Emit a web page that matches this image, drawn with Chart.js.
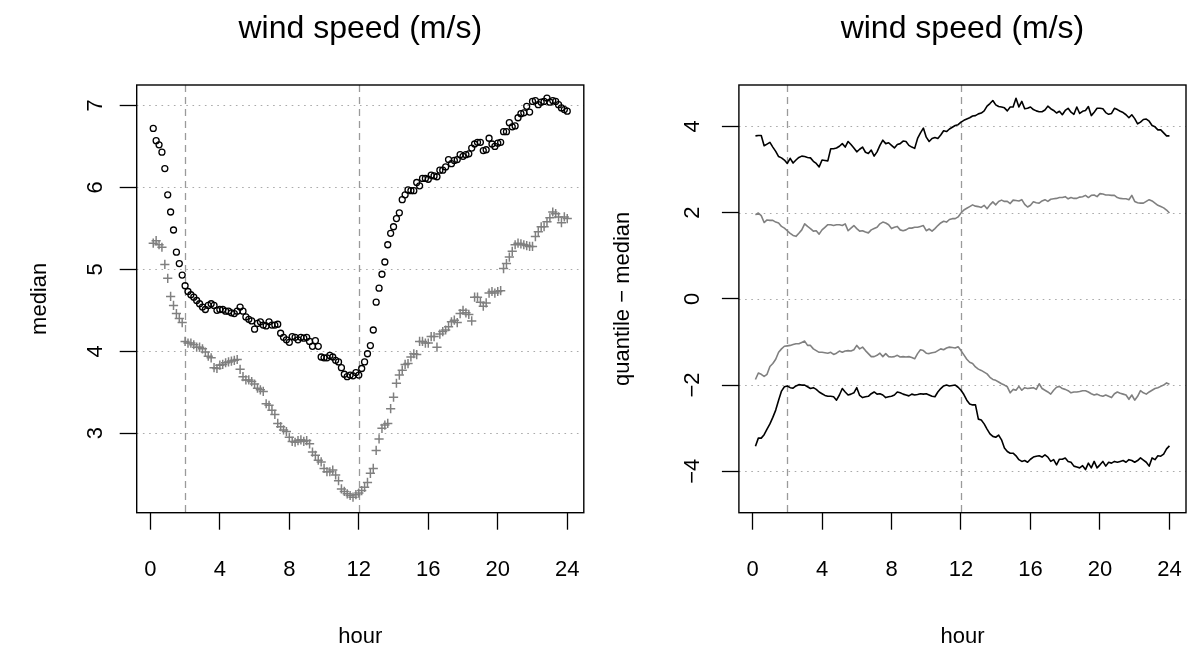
<!DOCTYPE html>
<html>
<head>
<meta charset="utf-8">
<title>wind speed (m/s)</title>
<script src="https://cdn.jsdelivr.net/npm/chart.js@4.4.1/dist/chart.umd.min.js"></script>
<style>
  html, body { margin: 0; padding: 0; background: #fff; }
  #wrap { position: relative; width: 1188px; height: 647px; overflow: hidden; }
  #wrap canvas { position: absolute; top: 0; }
</style>
</head>
<body>
<div id="wrap">
  <canvas id="medianChart" width="594" height="647" style="left:0"></canvas>
  <canvas id="spreadChart" width="594" height="647" style="left:594px"></canvas>
</div>
<script>
// time of day in minutes (10 minute steps)
const minutes = [
  10, 20, 30, 40, 50, 60, 70, 80, 90, 100, 110, 120,
  130, 140, 150, 160, 170, 180, 190, 200, 210, 220, 230, 240,
  250, 260, 270, 280, 290, 300, 310, 320, 330, 340, 350, 360,
  370, 380, 390, 400, 410, 420, 430, 440, 450, 460, 470, 480,
  490, 500, 510, 520, 530, 540, 550, 560, 570, 580, 590, 600,
  610, 620, 630, 640, 650, 660, 670, 680, 690, 700, 710, 720,
  730, 740, 750, 760, 770, 780, 790, 800, 810, 820, 830, 840,
  850, 860, 870, 880, 890, 900, 910, 920, 930, 940, 950, 960,
  970, 980, 990, 1000, 1010, 1020, 1030, 1040, 1050, 1060, 1070, 1080,
  1090, 1100, 1110, 1120, 1130, 1140, 1150, 1160, 1170, 1180, 1190, 1200,
  1210, 1220, 1230, 1240, 1250, 1260, 1270, 1280, 1290, 1300, 1310, 1320,
  1330, 1340, 1350, 1360, 1370, 1380, 1390, 1400, 1410, 1420, 1430, 1440
];

// left panel: median wind speed, two sites
const medianBlack = [
  6.72, 6.57, 6.52, 6.43, 6.23, 5.91, 5.70, 5.48, 5.21, 5.07, 4.93, 4.80,
  4.73, 4.69, 4.66, 4.62, 4.58, 4.54, 4.51, 4.56, 4.58, 4.56, 4.50, 4.51,
  4.51, 4.49, 4.49, 4.47, 4.46, 4.49, 4.54, 4.49, 4.42, 4.39, 4.37, 4.27,
  4.34, 4.36, 4.32, 4.31, 4.36, 4.32, 4.32, 4.33, 4.22, 4.17, 4.14, 4.11,
  4.18, 4.17, 4.14, 4.17, 4.16, 4.17, 4.12, 4.06, 4.13, 4.06, 3.93, 3.92,
  3.92, 3.95, 3.93, 3.89, 3.87, 3.80, 3.72, 3.69, 3.71, 3.70, 3.74, 3.71,
  3.79, 3.87, 3.97, 4.07, 4.26, 4.60, 4.77, 4.94, 5.09, 5.30, 5.44, 5.52,
  5.62, 5.69, 5.85, 5.91, 5.97, 5.96, 5.96, 6.06, 6.02, 6.11, 6.11, 6.10,
  6.15, 6.14, 6.13, 6.21, 6.21, 6.25, 6.34, 6.29, 6.33, 6.34, 6.40, 6.38,
  6.40, 6.41, 6.48, 6.53, 6.55, 6.55, 6.45, 6.46, 6.60, 6.53, 6.50, 6.54,
  6.55, 6.68, 6.68, 6.79, 6.74, 6.75, 6.85, 6.90, 6.91, 6.99, 6.92, 7.05,
  7.06, 7.01, 7.04, 7.05, 7.09, 7.04, 7.06, 7.05, 7.01, 6.97, 6.95, 6.93
];
const medianGrey = [
  5.32, 5.35, 5.30, 5.27, 5.06, 4.89, 4.67, 4.56, 4.46, 4.40, 4.35, 4.12,
  4.10, 4.10, 4.08, 4.05, 4.05, 4.03, 3.99, 3.94, 3.92, 3.80, 3.79, 3.83,
  3.84, 3.86, 3.87, 3.88, 3.89, 3.90, 3.78, 3.69, 3.65, 3.65, 3.63, 3.60,
  3.55, 3.53, 3.51, 3.36, 3.34, 3.28, 3.23, 3.12, 3.08, 3.04, 3.02, 2.95,
  2.90, 2.89, 2.91, 2.92, 2.90, 2.91, 2.87, 2.77, 2.73, 2.67, 2.65, 2.57,
  2.53, 2.53, 2.55, 2.49, 2.42, 2.32, 2.29, 2.26, 2.24, 2.22, 2.25, 2.27,
  2.30, 2.34, 2.40, 2.51, 2.57, 2.79, 2.93, 3.06, 3.10, 3.12, 3.30, 3.44,
  3.61, 3.71, 3.77, 3.84, 3.85, 3.93, 3.97, 3.96, 4.12, 4.12, 4.10, 4.10,
  4.18, 4.18, 4.05, 4.21, 4.24, 4.26, 4.30, 4.36, 4.38, 4.35, 4.46, 4.50,
  4.47, 4.45, 4.37, 4.66, 4.66, 4.60, 4.55, 4.59, 4.71, 4.73, 4.71, 4.73,
  4.74, 5.01, 5.07, 5.15, 5.22, 5.30, 5.32, 5.31, 5.30, 5.29, 5.28, 5.28,
  5.40, 5.46, 5.52, 5.52, 5.58, 5.63, 5.70, 5.68, 5.64, 5.57, 5.64, 5.62
];

// right panel: quantile - median
const upperBlack = [
  3.78, 3.79, 3.79, 3.55, 3.59, 3.63, 3.52, 3.42, 3.30, 3.27, 3.22, 3.14,
  3.26, 3.15, 3.22, 3.28, 3.31, 3.30, 3.28, 3.27, 3.19, 3.14, 3.06, 3.22,
  3.21, 3.20, 3.48, 3.48, 3.50, 3.54, 3.60, 3.52, 3.65, 3.58, 3.50, 3.41,
  3.47, 3.52, 3.40, 3.37, 3.45, 3.31, 3.41, 3.56, 3.68, 3.60, 3.62, 3.56,
  3.50, 3.58, 3.60, 3.66, 3.65, 3.56, 3.52, 3.49, 3.72, 3.85, 3.96, 3.75,
  3.65, 3.72, 3.74, 3.72, 3.80, 3.90, 3.88, 3.94, 3.98, 4.02, 4.04, 4.10,
  4.14, 4.17, 4.20, 4.24, 4.25, 4.29, 4.31, 4.36, 4.47, 4.53, 4.60, 4.50,
  4.46, 4.45, 4.43, 4.36, 4.45, 4.45, 4.65, 4.45, 4.58, 4.41, 4.42, 4.45,
  4.39, 4.36, 4.34, 4.34, 4.38, 4.47, 4.41, 4.37, 4.31, 4.35, 4.27, 4.37,
  4.42, 4.33, 4.28, 4.45, 4.30, 4.35, 4.37, 4.46, 4.25, 4.33, 4.42, 4.42,
  4.41, 4.32, 4.28, 4.30, 4.42, 4.39, 4.35, 4.32, 4.27, 4.20, 4.27, 4.18,
  4.06, 4.10, 4.16, 4.17, 4.12, 4.02, 3.99, 3.92, 3.92, 3.85, 3.78, 3.78
];
const upperGrey = [
  1.95, 1.99, 1.93, 1.77, 1.83, 1.82, 1.82, 1.78, 1.76, 1.68, 1.64, 1.58,
  1.52, 1.47, 1.45, 1.52, 1.60, 1.74, 1.68, 1.63, 1.57, 1.58, 1.50, 1.60,
  1.66, 1.72, 1.72, 1.70, 1.72, 1.72, 1.70, 1.74, 1.58, 1.64, 1.70, 1.63,
  1.57, 1.58, 1.55, 1.53, 1.60, 1.63, 1.66, 1.74, 1.78, 1.76, 1.72, 1.63,
  1.66, 1.68, 1.60, 1.58, 1.60, 1.64, 1.64, 1.66, 1.66, 1.68, 1.70, 1.58,
  1.62, 1.57, 1.63, 1.70, 1.76, 1.80, 1.78, 1.84, 1.86, 1.86, 1.90, 1.99,
  2.06, 2.10, 2.14, 2.18, 2.15, 2.14, 2.12, 2.17, 2.09, 2.18, 2.25, 2.18,
  2.26, 2.29, 2.26, 2.26, 2.21, 2.29, 2.28, 2.27, 2.30, 2.19, 2.13, 2.17,
  2.25, 2.23, 2.22, 2.27, 2.30, 2.26, 2.31, 2.32, 2.33, 2.35, 2.35, 2.37,
  2.32, 2.35, 2.33, 2.33, 2.36, 2.37, 2.40, 2.35, 2.40, 2.41, 2.37, 2.44,
  2.43, 2.41, 2.41, 2.40, 2.40, 2.35, 2.33, 2.32, 2.32, 2.30, 2.40, 2.26,
  2.23, 2.22, 2.22, 2.26, 2.30, 2.27, 2.22, 2.17, 2.14, 2.11, 2.06, 1.99
];
const lowerGrey = [
  -1.87, -1.72, -1.75, -1.80, -1.75, -1.57, -1.50, -1.40, -1.24, -1.16, -1.10, -1.09,
  -1.08, -1.06, -1.04, -1.04, -1.01, -0.98, -1.08, -1.08, -1.16, -1.20, -1.24, -1.24,
  -1.25, -1.26, -1.24, -1.29, -1.26, -1.21, -1.24, -1.21, -1.20, -1.21, -1.18, -1.08,
  -1.16, -1.12, -1.20, -1.27, -1.34, -1.34, -1.31, -1.26, -1.34, -1.27, -1.34, -1.35,
  -1.34, -1.31, -1.35, -1.34, -1.35, -1.34, -1.36, -1.39, -1.27, -1.18, -1.20, -1.26,
  -1.27, -1.25, -1.24, -1.20, -1.16, -1.18, -1.14, -1.12, -1.13, -1.14, -1.11, -1.20,
  -1.30, -1.40, -1.47, -1.50, -1.58, -1.63, -1.66, -1.70, -1.74, -1.82, -1.87, -1.89,
  -1.93, -1.97, -2.00, -2.04, -2.18, -2.10, -2.12, -2.03, -2.12, -2.06, -2.08, -2.07,
  -2.06, -2.10, -1.97, -2.08, -2.12, -2.16, -2.21, -2.12, -2.05, -2.03, -2.08, -2.10,
  -2.13, -2.18, -2.16, -2.16, -2.15, -2.13, -2.13, -2.16, -2.20, -2.23, -2.21, -2.24,
  -2.26, -2.23, -2.26, -2.29, -2.20, -2.16, -2.19, -2.21, -2.23, -2.33, -2.23, -2.35,
  -2.26, -2.13, -2.18, -2.21, -2.16, -2.12, -2.08, -2.06, -2.03, -2.00, -1.95, -1.98
];
const lowerBlack = [
  -3.42, -3.23, -3.23, -3.15, -3.02, -2.90, -2.75, -2.58, -2.35, -2.14, -2.04, -2.02,
  -2.06, -2.07, -2.02, -1.99, -2.00, -2.00, -2.04, -2.08, -2.06, -2.10, -2.16, -2.20,
  -2.24, -2.26, -2.26, -2.27, -2.35, -2.23, -2.08, -2.16, -2.23, -2.21, -2.18, -2.06,
  -2.24, -2.29, -2.27, -2.26, -2.20, -2.16, -2.21, -2.20, -2.23, -2.29, -2.27, -2.26,
  -2.23, -2.16, -2.18, -2.21, -2.23, -2.25, -2.21, -2.23, -2.22, -2.20, -2.21, -2.20,
  -2.23, -2.26, -2.27, -2.16, -2.08, -2.02, -2.00, -2.02, -2.01, -2.00, -2.05, -2.12,
  -2.22, -2.35, -2.44, -2.46, -2.46, -2.79, -2.81, -2.90, -3.02, -3.13, -3.19, -3.21,
  -3.16, -3.27, -3.46, -3.54, -3.58, -3.58, -3.64, -3.73, -3.77, -3.75, -3.79, -3.72,
  -3.67, -3.65, -3.64, -3.67, -3.62, -3.67, -3.77, -3.73, -3.85, -3.72, -3.72, -3.69,
  -3.77, -3.79, -3.88, -3.90, -3.92, -3.87, -3.96, -3.81, -3.92, -3.77, -3.92, -3.85,
  -3.77, -3.88, -3.79, -3.81, -3.77, -3.79, -3.77, -3.75, -3.79, -3.73, -3.75, -3.79,
  -3.75, -3.69, -3.74, -3.79, -3.88, -3.69, -3.73, -3.64, -3.65, -3.60, -3.48, -3.41
];

// axes
const hourTicks = [0, 4, 8, 12, 16, 20, 24];
const markHours = [2, 12];
const medianTicks = [3, 4, 5, 6, 7];
const spreadTicks = [-4, -2, 0, 2, 4];

const FONT = '"Liberation Sans", Arial, Helvetica, sans-serif';
const GREY = '#808080';

const hours = minutes.map(m => m / 60);
const toPoints = vals => vals.map((v, i) => ({ x: hours[i], y: v }));
const fmt = v => (v < 0 ? '\u2212' + Math.abs(v) : String(v));

// grid lines, frame and all text of an R style panel
const panelDeco = {
    id: 'panelDeco',
    beforeDatasetsDraw(chart, args, o) {
        const { ctx, chartArea: a, scales: { x, y } } = chart;
        ctx.save();
        ctx.lineWidth = 1.1;
        ctx.strokeStyle = '#aaaaaa';
        ctx.setLineDash([1.6, 4.6]);
        o.yTicks.forEach(v => {
            const py = Math.round(y.getPixelForValue(v)) + 0.5;
            ctx.beginPath(); ctx.moveTo(a.left, py); ctx.lineTo(a.right, py); ctx.stroke();
        });
        ctx.strokeStyle = '#9a9a9a';
        ctx.lineWidth = 1.3;
        ctx.setLineDash([7, 5]);
        markHours.forEach(v => {
            const px = Math.round(x.getPixelForValue(v)) + 0.5;
            ctx.beginPath(); ctx.moveTo(px, a.top); ctx.lineTo(px, a.bottom); ctx.stroke();
        });
        ctx.restore();
    },
    afterDraw(chart, args, o) {
        const { ctx, chartArea: a, scales: { x, y } } = chart;
        ctx.save();
        ctx.strokeStyle = '#000';
        ctx.lineWidth = 1.4;
        ctx.strokeRect(a.left, a.top, a.right - a.left, a.bottom - a.top);

        ctx.fillStyle = '#000';
        ctx.font = '22px ' + FONT;
        ctx.textAlign = 'center';
        ctx.textBaseline = 'alphabetic';
        hourTicks.forEach(v => ctx.fillText(String(v), x.getPixelForValue(v), 576));
        ctx.fillText('hour', (a.left + a.right) / 2, 643);

        o.yTicks.forEach(v => {
            ctx.save();
            ctx.translate(a.left - o.tickGap, y.getPixelForValue(v));
            ctx.rotate(-Math.PI / 2);
            ctx.fillText(fmt(v), 0, 0);
            ctx.restore();
        });
        ctx.save();
        ctx.translate(a.left - o.labGap, (a.top + a.bottom) / 2);
        ctx.rotate(-Math.PI / 2);
        ctx.fillText(o.ylab, 0, 0);
        ctx.restore();

        ctx.font = '32px ' + FONT;
        ctx.fillText(o.title, (a.left + a.right) / 2, 38);
        ctx.restore();
    }
};

function axisOptions(min, max, ticks, size) {
    return {
        type: 'linear',
        min: min,
        max: max,
        afterBuildTicks: s => { s.ticks = ticks.map(v => ({ value: v })); },
        afterFit: s => {
            if (s.isHorizontal()) s.height = size; else s.width = size;
        },
        ticks: { display: false },
        border: { display: false },
        grid: {
            drawOnChartArea: false,
            drawTicks: true,
            tickLength: 17,
            tickColor: '#000',
            tickWidth: 1.3
        }
    };
}

function baseOptions(padRight, yMin, yMax, yTicks, leftWidth, deco) {
    return {
        responsive: false,
        animation: false,
        devicePixelRatio: 1,
        layout: { padding: { left: 0, top: 85, right: padRight, bottom: 0 } },
        plugins: { legend: { display: false }, tooltip: { enabled: false }, panelDeco: deco },
        scales: {
            x: axisOptions(-0.786, 24.953, hourTicks, 647 - 512.7),
            y: axisOptions(yMin, yMax, yTicks, leftWidth)
        }
    };
}

new Chart(document.getElementById('medianChart'), {
    type: 'scatter',
    data: {
        datasets: [
            {
                data: toPoints(medianBlack),
                pointStyle: 'circle',
                pointRadius: 3.0,
                borderColor: '#000',
                backgroundColor: 'rgba(0,0,0,0)',
                borderWidth: 1.3
            },
            {
                data: toPoints(medianGrey),
                pointStyle: 'cross',
                pointRadius: 4.6,
                borderColor: GREY,
                borderWidth: 1.5
            }
        ]
    },
    options: baseOptions(594 - 583.8, 2.03, 7.25, medianTicks, 136.7,
        { title: 'wind speed (m/s)', ylab: 'median', yTicks: medianTicks, tickGap: 35, labGap: 91 }),
    plugins: [panelDeco]
});

const lineSet = (vals, color) => ({
    data: toPoints(vals),
    showLine: true,
    pointRadius: 0,
    borderColor: color,
    borderWidth: 1.6,
    borderJoinStyle: 'round',
    tension: 0
});

new Chart(document.getElementById('spreadChart'), {
    type: 'scatter',
    data: {
        datasets: [
            lineSet(upperBlack, '#000'),
            lineSet(upperGrey, GREY),
            lineSet(lowerGrey, GREY),
            lineSet(lowerBlack, '#000')
        ]
    },
    options: baseOptions(594 - 592, -4.96, 4.96, spreadTicks, 144.9,
        { title: 'wind speed (m/s)', ylab: 'quantile \u2212 median', yTicks: spreadTicks, tickGap: 39.5, labGap: 110 }),
    plugins: [panelDeco]
});
</script>
</body>
</html>
